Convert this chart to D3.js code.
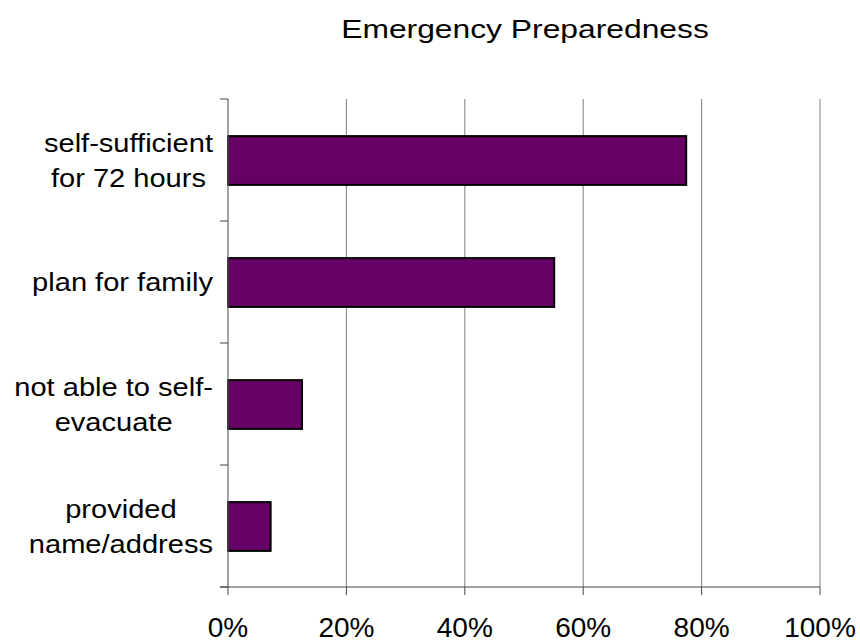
<!DOCTYPE html>
<html>
<head>
<meta charset="utf-8">
<script src="https://cdn.jsdelivr.net/npm/d3@7"></script>
<style>
  html, body { margin: 0; padding: 0; background: #fff; }
  svg { display: block; font-family: "Liberation Sans", Arial, sans-serif; }
</style>
</head>
<body>
<svg id="chart" width="860" height="642"></svg>
<script>
const title = "Emergency Preparedness";
const categories = ["self-sufficient for 72 hours", "plan for family", "not able to self-evacuate", "provided name/address"];
const categoryLines = [["self-sufficient", "for 72 hours"], ["plan for family"], ["not able to self-", "evacuate"], ["provided", "name/address"]];
const values = [0.774, 0.551, 0.125, 0.072];
const xTicks = [0, 0.2, 0.4, 0.6, 0.8, 1.0];
const xTickLabels = ["0%", "20%", "40%", "60%", "80%", "100%"];

const svg = d3.select("#chart");
const plotL = 228, plotR = 820, plotT = 99, plotB = 587;

const x = d3.scaleLinear().domain([0, 1]).range([plotL, plotR]);
const y = d3.scaleBand().domain(categories).range([plotT, plotB]).paddingInner(0.6).paddingOuter(0.3);
const step = y.step();

// gridlines
svg.append("g").selectAll("line").data(xTicks.slice(1)).join("line")
  .attr("x1", d => x(d)).attr("x2", d => x(d))
  .attr("y1", plotT).attr("y2", plotB)
  .attr("stroke", "#808080").attr("stroke-width", 1);

// bars
svg.append("g").selectAll("rect").data(categories).join("rect")
  .attr("x", x(0))
  .attr("y", d => y(d) + 0.5)
  .attr("width", (d, i) => x(values[i]) - x(0))
  .attr("height", y.bandwidth())
  .attr("fill", "#660066")
  .attr("stroke", "#000").attr("stroke-width", 2);

// y axis
const yBounds = d3.range(categories.length + 1).map(i => plotT + i * step);
svg.append("line").attr("x1", plotL).attr("x2", plotL).attr("y1", plotT).attr("y2", plotB)
  .attr("stroke", "#666").attr("stroke-width", 1.2);
svg.append("g").selectAll("line").data(yBounds).join("line")
  .attr("x1", plotL - 8).attr("x2", plotL).attr("y1", d => d).attr("y2", d => d)
  .attr("stroke", "#444").attr("stroke-width", 1);

// x axis
svg.append("line").attr("x1", plotL - 8).attr("x2", plotR).attr("y1", plotB).attr("y2", plotB)
  .attr("stroke", "#444").attr("stroke-width", 1.2);
svg.append("g").selectAll("line").data(xTicks).join("line")
  .attr("x1", d => x(d)).attr("x2", d => x(d)).attr("y1", plotB).attr("y2", plotB + 8)
  .attr("stroke", "#444").attr("stroke-width", 1);
svg.append("g").selectAll("text").data(xTicks).join("text")
  .attr("x", d => x(d)).attr("y", 637)
  .attr("text-anchor", "middle")
  .attr("font-size", 28).attr("fill", "#000")
  .text((d, i) => xTickLabels[i]);

// category labels (horizontally stretched like the reference rendering)
const lineH = 35, labelStretch = 1.14;
categories.forEach((c, i) => {
  const lines = categoryLines[i];
  const cy = y(c) + y.bandwidth() / 2;
  const g = svg.append("g");
  const texts = lines.map((t, j) => g.append("text")
    .attr("x", 0)
    .attr("y", cy + (j - (lines.length - 1) / 2) * lineH + 9.5)
    .attr("text-anchor", "middle")
    .attr("font-size", 25.5).attr("fill", "#000")
    .text(t));
  const maxW = d3.max(texts, t => t.node().getComputedTextLength()) * labelStretch;
  g.attr("transform", `translate(${213 - maxW / 2},0) scale(${labelStretch},1)`);
});

// title
svg.append("g").attr("transform", "translate(525,0) scale(1.2,1)")
  .append("text").attr("x", 0).attr("y", 38)
  .attr("text-anchor", "middle").attr("font-size", 26.5).attr("fill", "#000")
  .text(title);
</script>
</body>
</html>
